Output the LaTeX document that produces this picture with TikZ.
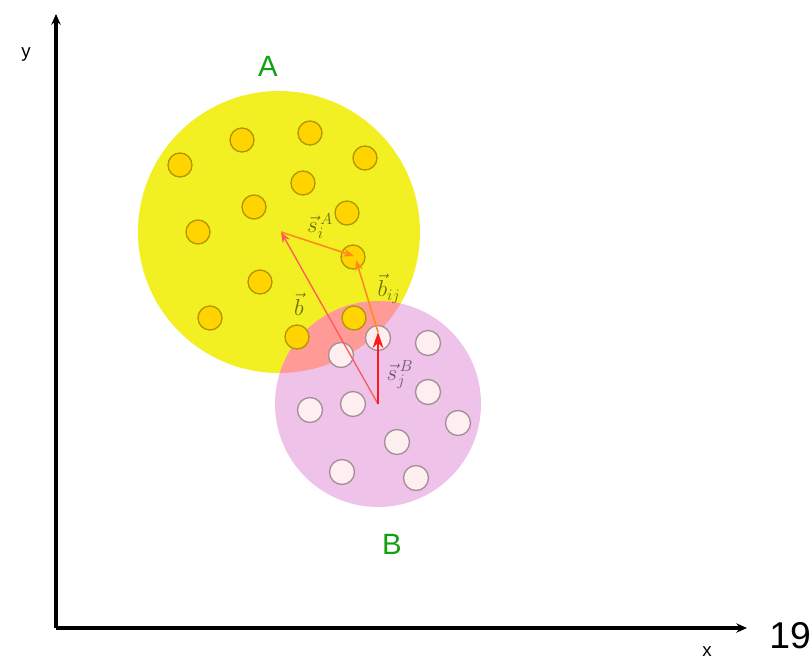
\documentclass[tikz,border=0pt]{standalone}
\usepackage{fontspec}
\setsansfont{Liberation Sans}
\usetikzlibrary{arrows.meta}
\definecolor{diskA}{HTML}{F2F022}
\definecolor{diskB}{HTML}{EFC2EA}
\definecolor{overlap}{HTML}{FF9A96}
\definecolor{dotA}{HTML}{FFD400}
\definecolor{dotAline}{HTML}{B09600}
\definecolor{dotB}{HTML}{FDEEF0}
\definecolor{dotBline}{HTML}{A48E96}
\definecolor{labelgreen}{HTML}{11A011}
\definecolor{vecred}{HTML}{FF1A1A}
\definecolor{vecorange}{HTML}{FF8A1E}
\definecolor{vecpink}{HTML}{FF5A5A}
\tikzset{
  axis/.style={line width=2.4pt, -{Stealth[length=8pt,width=7pt]}},
  dotAstyle/.style={fill=dotA, draw=dotAline, line width=1pt},
  dotBstyle/.style={fill=dotB, draw=dotBline, line width=1pt},
  setlabel/.style={font=\sffamily\fontsize{22}{22}\selectfont, text=labelgreen},
  veclabel/.style={font=\fontsize{18}{18}\selectfont, text=black, text opacity=0.55, inner sep=0pt},
  thinvec/.style={line width=1.2pt, -{Stealth[length=8pt,width=6pt]}}
}
\begin{document}
\begin{tikzpicture}[x=0.75pt,y=-0.75pt]
\useasboundingbox (0,0) rectangle (809,661);
% the two sets and their overlap
\fill[diskA] (279,232) circle (141);
\fill[diskB] (378,404) circle (103);
\begin{scope}
  \clip (279,232) circle (141);
  \fill[overlap] (378,404) circle (103);
\end{scope}
% particles
\foreach \p in {(180,165),(242,140),(310,133),(365,158),(303,183),(254,207),
                (347,213),(198,232),(353,257),(260,282),(210,318),(297,337),(354,318)}
  \draw[dotAstyle] \p circle (12);
\foreach \p in {(378,338),(428,343),(341,355),(428,392),(310,410),(353,404),
                (458,423),(397,442),(342,472),(416,478)}
  \draw[dotBstyle] \p circle (12.5);
% axes
\coordinate (orig) at (56,628);
\coordinate (ytip) at (56,14);
\coordinate (xtip) at (747,628);
\draw[axis] (orig) -- (ytip);
\draw[axis] (orig) -- (xtip);
\node[font=\sffamily\fontsize{14}{14}\selectfont] (ylab) at (26,55) {y};
\node[font=\sffamily\fontsize{14}{14}\selectfont] (xlab) at (707,652) {x};
\node[font=\sffamily\fontsize{28}{28}\selectfont, inner sep=0pt] (pagenum) at (790,636) {19};
\node[setlabel] (setA) at (268,66) {A};
\node[setlabel] (setB) at (392,544) {B};
% vectors
\coordinate (cB) at (378,404);
\coordinate (sB) at (378,332);
\coordinate (cA) at (281,232);
\coordinate (sA) at (354,256);
\coordinate (bij) at (356,260);
\draw[thinvec, vecpink, line width=1pt] (cB) -- (cA);
\draw[thinvec, vecorange] (cA) -- (sA);
\draw[thinvec, vecorange] (sB) -- (bij);
\draw[vecred, line width=2pt, -{Stealth[length=12pt,width=8pt]}] (cB) -- (sB);
\node[veclabel] (lsA) at (320,226) {$\vec{s}_i^{\,A}$};
\node[veclabel] (lb) at (299,304) {$\vec{b}$};
\node[veclabel] (lbij) at (389,289) {$\vec{b}_{ij}$};
\node[veclabel] (lsB) at (400,375) {$\vec{s}_j^{\,B}$};
\end{tikzpicture}
\end{document}
